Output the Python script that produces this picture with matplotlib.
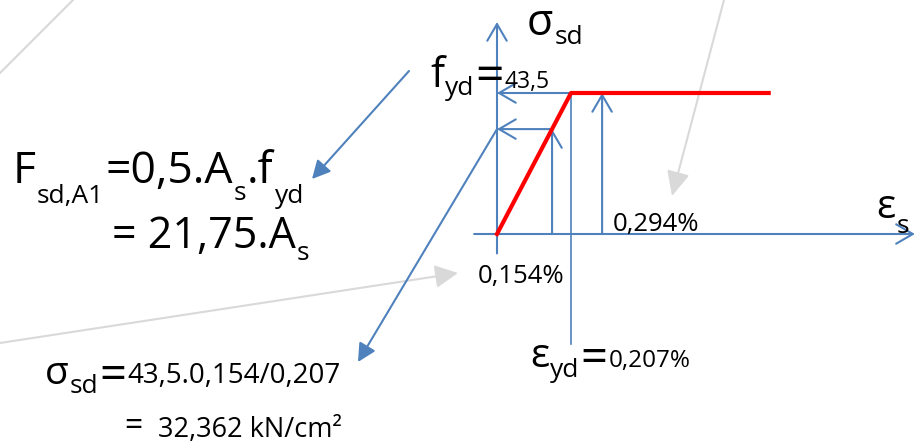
import matplotlib.pyplot as plt

plt.rcParams['font.family'] = ['Open Sans', 'DejaVu Sans']

# steel design values (strain in %, stress in kN/cm²)
fyd = 43.5
eps_yd = 0.207
eps_a = 0.154
eps_b = 0.294
sig_a = 32.362          # 43,5 . 0,154 / 0,207
eps_end = 0.76          # end of the drawn plateau

curve_eps = [0.0, eps_yd, eps_end]
curve_sig = [0.0, fyd, fyd]

BLUE = '#4f81bd'
RED = '#ff0000'
GRAY = '#d9d9d9'


def comma(v, nd):
    return f"{v:.{nd}f}".replace('.', ',')


W, H = 916, 445
fig = plt.figure(figsize=(W / 100, H / 100), dpi=100)

# pixel-space axes for text and callout arrows
ax = fig.add_axes([0, 0, 1, 1])
ax.set_xlim(0, W)
ax.set_ylim(H, 0)
ax.axis('off')

# diagram axes: origin at pixel (497, 234), yield point at pixel (571, 93)
x0, y0 = 497, 234
kx = (571 - x0) / eps_yd
ky = (y0 - 93) / fyd
ax_d = fig.add_axes([0, 0, 1, 1])
ax_d.set_xlim(-x0 / kx, (W - x0) / kx)
ax_d.set_ylim(-(H - y0) / ky, y0 / ky)
ax_d.axis('off')
ax_d.patch.set_alpha(0)

D = ax_d.transData


def arrow(p, q, coords_p, coords_q, style, color=BLUE, lw=1.5, ms=20, z=2):
    ax.annotate('', xy=q, xycoords=coords_q, xytext=p, textcoords=coords_p,
                arrowprops=dict(arrowstyle=style, color=color, lw=lw,
                                mutation_scale=ms, shrinkA=0, shrinkB=0),
                zorder=z, annotation_clip=False)


OPEN = '->,head_length=0.6,head_width=0.35'
FILLED = '-|>,head_length=0.55,head_width=0.28'

# light gray connector lines in the background
ax.plot([0, 73], [73, 0], color=GRAY, lw=1.5, zorder=1)
arrow((724, 0), (672, 196), 'data', 'data',
      '-|>,head_length=0.75,head_width=0.35', color=GRAY, lw=1.5, z=1)
arrow((0, 343), (458, 273), 'data', 'data',
      '-|>,head_length=0.7,head_width=0.35', color=GRAY, lw=1.5, z=1)

# axes of the diagram
arrow((0, -6), (0, 65.4), D, D, OPEN)
arrow((-0.064, 0), (1.169, 0), D, D, OPEN)

# yield level and yield strain
arrow((eps_yd, fyd), (0, fyd), D, D, OPEN)
ax_d.plot([eps_yd, eps_yd], [fyd, -33.9], color=BLUE, lw=1.2, zorder=2)

# strain markers
arrow((eps_b, 0), (eps_b, fyd), D, D, OPEN)
arrow((eps_a, 0), (eps_a, sig_a), D, D, OPEN)
arrow((eps_a, sig_a), (0, sig_a), D, D, OPEN)

# callout arrows to the formulas
arrow((0, sig_a), (358, 362), D, 'data', FILLED)
arrow((409, 71), (312, 179), 'data', 'data', FILLED)

# bilinear stress-strain curve
ax_d.plot(curve_eps, curve_sig, color=RED, lw=3, zorder=5)

renderer = fig.canvas.get_renderer()


def chain(x, y, parts, gap=1):
    for s, size, dy in parts:
        t = ax.text(x, y + dy, s, fontsize=size, ha='left', va='baseline',
                    color='black', zorder=6)
        bb = t.get_window_extent(renderer)
        x = bb.x1 + gap


chain(527, 35, [("σ", 31, 0), ("sd", 19, 9)])
chain(430, 87, [("f", 30, 0), ("yd", 19, 8), ("=", 36, 4),
                (comma(fyd, 1), 16.5, 1)])

chain(13, 183, [("F", 32, 0), ("sd,A1", 19, 20), ("=0,5.A", 32, 0),
                ("s", 19, 17), (".f", 32, 0), ("yd", 19, 20)])
chain(112, 248, [("= " + comma(0.5 * fyd, 2) + ".A", 31, 0), ("s", 19, 12)])

chain(45, 384, [("σ", 28, 0), ("sd", 19, 9), ("=", 34, 5),
                (f"{comma(fyd, 1)}.{comma(eps_a, 3)}/{comma(eps_yd, 3)}", 20, -1)])
ax.text(124, 435, "=", fontsize=23, ha='left', va='baseline', zorder=6)
ax.text(158, 437, f"{comma(sig_a, 3)} kN/cm²", fontsize=19.5,
        ha='left', va='baseline', zorder=6)

chain(530, 367, [("ε", 29, 0), ("yd", 19, 10), ("=", 34, 5),
                 (comma(eps_yd, 3) + "%", 17.5, 0)])
chain(876, 218, [("ε", 29, 0), ("s", 19, 15)])

ax.text(613, 231, comma(eps_b, 3) + "%", fontsize=18.5,
        ha='left', va='baseline', zorder=6)
ax.text(478, 283, comma(eps_a, 3) + "%", fontsize=18.5,
        ha='left', va='baseline', zorder=6)

fig.savefig('out.png', dpi=100)
